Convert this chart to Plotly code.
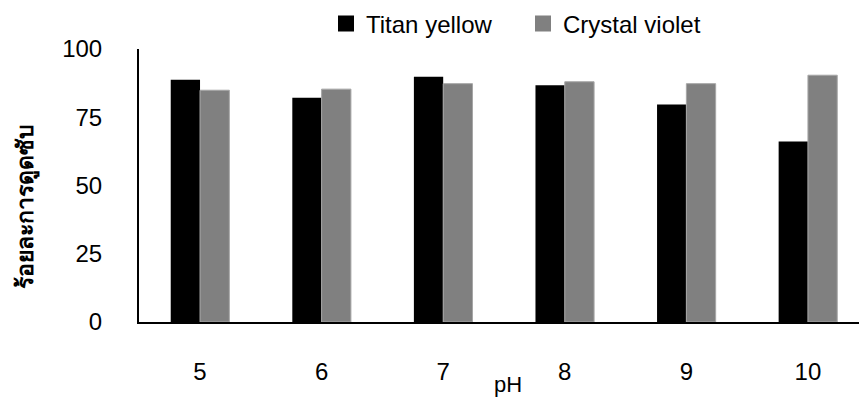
import plotly.graph_objects as go

ph = [5, 6, 7, 8, 9, 10]
tick_labels = ["5", "6", "7", "8", "9", "10"]
titan_yellow = [88.7, 82.1, 89.8, 86.7, 79.7, 66.1]
crystal_violet = [84.9, 85.3, 87.3, 88.0, 87.3, 90.4]
series_names = ["Titan yellow", "Crystal violet"]
series_colors = ["#000000", "#808080"]

FONT = "Liberation Sans, Arial, sans-serif"
FS = 24

fig = go.Figure()
fig.add_trace(go.Bar(x=ph, y=titan_yellow, name=series_names[0], showlegend=False,
                     marker=dict(color=series_colors[0], line=dict(width=0))))
fig.add_trace(go.Bar(x=ph, y=crystal_violet, name=series_names[1], showlegend=False,
                     marker=dict(color=series_colors[1], line=dict(color="#a6a6a6", width=1))))
# legend entries with larger square swatches
for nm, col in zip(series_names, series_colors):
    fig.add_trace(go.Scatter(x=[None], y=[None], mode="markers", name=nm,
                             marker=dict(symbol="square", size=20, color=col)))

fig.update_layout(
    width=859, height=399,
    margin=dict(l=139, r=0, t=49, b=77),
    paper_bgcolor="white", plot_bgcolor="white",
    barmode="group", bargap=0.518, bargroupgap=0,
    font=dict(family=FONT, size=FS, color="#000000"),
    showlegend=True,
    legend=dict(orientation="h", x=(326 - 139) / 720, xanchor="left", y=1.0916, yanchor="middle",
                font=dict(family=FONT, size=FS, color="#000000"),
                entrywidth=152,
                bgcolor="rgba(0,0,0,0)", itemclick=False, traceorder="normal"),
    xaxis=dict(range=[4.498, 10.42], tickvals=ph, ticktext=tick_labels,
               showline=True, linecolor="#000000", linewidth=2,
               showgrid=False, zeroline=False,
               ticks="outside", ticklen=27, tickcolor="rgba(0,0,0,0)",
               tickfont=dict(family=FONT, size=FS, color="#000000")),
    yaxis=dict(range=[0, 100], tickvals=[0, 25, 50, 75, 100],
               showline=True, linecolor="#000000", linewidth=2,
               showgrid=False, zeroline=False,
               ticks="outside", ticklen=30, tickcolor="rgba(0,0,0,0)",
               tickfont=dict(family=FONT, size=FS, color="#000000")),
    annotations=[
        dict(text="pH", xref="paper", yref="paper",
             x=(508 - 139) / 720, y=-(384 - 322) / 273,
             xanchor="center", yanchor="middle", showarrow=False,
             font=dict(family=FONT, size=22, color="#000000")),
        dict(text="<b>ร้อยละการดูดซับ</b>", xref="paper", yref="paper",
             x=(26 - 139) / 720, y=(322 - 207) / 273, textangle=-90,
             xanchor="center", yanchor="middle", showarrow=False,
             font=dict(family=FONT, size=23, color="#000000")),
    ],
)

fig.write_html("out.html")
